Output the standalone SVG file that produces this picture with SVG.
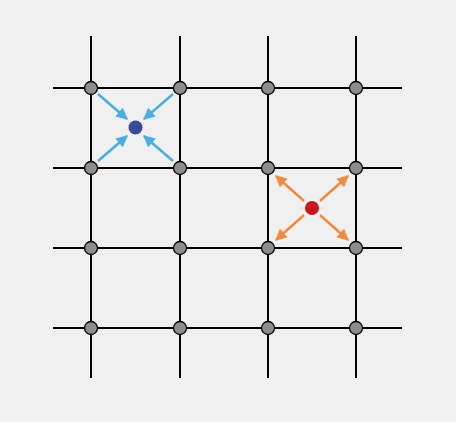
<svg xmlns="http://www.w3.org/2000/svg" width="456" height="422" viewBox="0 0 456 422">
<style>
.grid{stroke:#000;stroke-width:2;fill:none}
.node{fill:#8e8e90;stroke:#000;stroke-width:1.3}
.blue{stroke:#4aaee0;stroke-width:2.6;fill:none}
.orange{stroke:#ef8c42;stroke-width:2.6;fill:none}
</style>
<defs>
<marker id="hb" viewBox="0 0 10 10" refX="9" refY="5" markerWidth="4.5" markerHeight="4.5" orient="auto" markerUnits="strokeWidth"><path d="M0,0 L10,5 L0,10 z" fill="#4aaee0"/></marker>
<marker id="ho" viewBox="0 0 10 10" refX="9" refY="5" markerWidth="4.5" markerHeight="4.5" orient="auto" markerUnits="strokeWidth"><path d="M0,0 L10,5 L0,10 z" fill="#ef8c42"/></marker>
</defs>
<rect width="456" height="422" fill="#f0f0f0"/>
<g id="connectors">
<g class="grid">
<line x1="91" y1="36" x2="91" y2="378"/>
<line x1="180" y1="36" x2="180" y2="378"/>
<line x1="268" y1="36" x2="268" y2="378"/>
<line x1="356" y1="36" x2="356" y2="378"/>
<line x1="53" y1="88" x2="402" y2="88"/>
<line x1="53" y1="168" x2="402" y2="168"/>
<line x1="53" y1="248" x2="402" y2="248"/>
<line x1="53" y1="328" x2="402" y2="328"/>
</g>
<g class="blue">
<line x1="98" y1="94" x2="127" y2="119" marker-end="url(#hb)"/>
<line x1="173" y1="94" x2="144" y2="119" marker-end="url(#hb)"/>
<line x1="98" y1="161" x2="127" y2="136" marker-end="url(#hb)"/>
<line x1="173" y1="161" x2="144" y2="136" marker-end="url(#hb)"/>
</g>
<g class="orange">
<line x1="304" y1="201" x2="276" y2="176" marker-end="url(#ho)"/>
<line x1="320" y1="201" x2="348" y2="176" marker-end="url(#ho)"/>
<line x1="304" y1="215" x2="276" y2="240" marker-end="url(#ho)"/>
<line x1="320" y1="215" x2="348" y2="240" marker-end="url(#ho)"/>
</g>
</g>
<g id="n1"><circle class="node" cx="91" cy="88" r="6.5"/></g>
<g id="n2"><circle class="node" cx="180" cy="88" r="6.5"/></g>
<g id="n3"><circle class="node" cx="268" cy="88" r="6.5"/></g>
<g id="n4"><circle class="node" cx="356" cy="88" r="6.5"/></g>
<g id="n5"><circle class="node" cx="91" cy="168" r="6.5"/></g>
<g id="n6"><circle class="node" cx="180" cy="168" r="6.5"/></g>
<g id="n7"><circle class="node" cx="268" cy="168" r="6.5"/></g>
<g id="n8"><circle class="node" cx="356" cy="168" r="6.5"/></g>
<g id="n9"><circle class="node" cx="91" cy="248" r="6.5"/></g>
<g id="n10"><circle class="node" cx="180" cy="248" r="6.5"/></g>
<g id="n11"><circle class="node" cx="268" cy="248" r="6.5"/></g>
<g id="n12"><circle class="node" cx="356" cy="248" r="6.5"/></g>
<g id="n13"><circle class="node" cx="91" cy="328" r="6.5"/></g>
<g id="n14"><circle class="node" cx="180" cy="328" r="6.5"/></g>
<g id="n15"><circle class="node" cx="268" cy="328" r="6.5"/></g>
<g id="n16"><circle class="node" cx="356" cy="328" r="6.5"/></g>
<g id="blueDot"><circle cx="135.5" cy="127.5" r="7" fill="#374a9a"/></g>
<g id="redDot"><circle cx="312" cy="208" r="7" fill="#c8161e"/></g>
</svg>
